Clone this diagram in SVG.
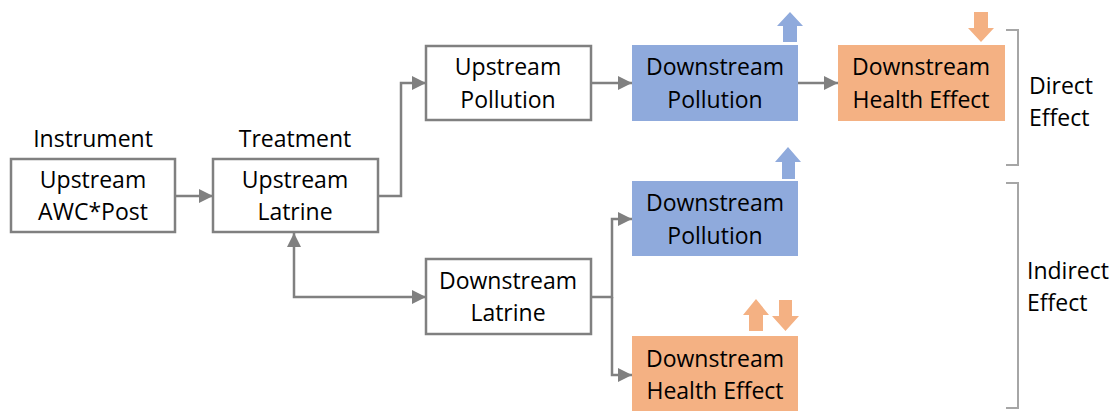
<svg xmlns="http://www.w3.org/2000/svg" width="1115" height="411" viewBox="0 0 1115 411">
<defs>
<marker id="ah" markerUnits="userSpaceOnUse" markerWidth="14" markerHeight="14" viewBox="0 0 12 12" refX="12" refY="6" orient="auto-start-reverse">
<path d="M0,0 L12,6 L0,12 Z" fill="#808080"/>
</marker>
</defs>
<style>
.box{fill:#ffffff;stroke:#808080;stroke-width:2.5}
.blue{fill:#8faadc}
.orange{fill:#f4b183}
.t{font-family:"Open Sans","Liberation Sans",sans-serif;font-size:23px;fill:#000;text-anchor:middle}
.tl{font-family:"Open Sans","Liberation Sans",sans-serif;font-size:23px;fill:#000}
.c{fill:none;stroke:#808080;stroke-width:2.5}
.br{fill:none;stroke:#a6a6a6;stroke-width:2}
</style>
<rect width="1115" height="411" fill="#ffffff"/>
<g id="connectors">
<path class="c" d="M175,196 H213" marker-end="url(#ah)"/>
<path class="c" d="M378,196 H401 V83 H426" marker-end="url(#ah)"/>
<path class="c" d="M591,83 H632" marker-end="url(#ah)"/>
<path class="c" d="M798,83 H838" marker-end="url(#ah)"/>
<path class="c" d="M294,233 V297 H426" marker-start="url(#ah)" marker-end="url(#ah)"/>
<path class="c" d="M591,297 H612 V219 H632" marker-end="url(#ah)"/>
<path class="c" d="M612,297 V375 H632" marker-end="url(#ah)"/>
</g>
<g id="label-instrument"><text class="t" x="93" y="147">Instrument</text></g>
<g id="label-treatment"><text class="t" x="295" y="147">Treatment</text></g>
<g id="upstream-awc-post">
<rect class="box" x="11" y="159" width="164" height="73"/>
<text class="t" x="93" y="188">Upstream</text>
<text class="t" x="93" y="220">AWC*Post</text>
</g>
<g id="upstream-latrine">
<rect class="box" x="213" y="159" width="165" height="73"/>
<text class="t" x="295" y="188">Upstream</text>
<text class="t" x="295" y="220">Latrine</text>
</g>
<g id="upstream-pollution">
<rect class="box" x="426" y="46" width="165" height="74"/>
<text class="t" x="508" y="75">Upstream</text>
<text class="t" x="508" y="108">Pollution</text>
</g>
<g id="downstream-pollution-direct">
<rect class="blue" x="632" y="45" width="166" height="76"/>
<text class="t" x="715" y="75">Downstream</text>
<text class="t" x="715" y="108">Pollution</text>
<path class="blue" d="M783,42 V26 H777 L790,12 L803,26 H797 V42 Z"/>
</g>
<g id="downstream-health-direct">
<rect class="orange" x="838" y="45" width="167" height="76"/>
<text class="t" x="921" y="75">Downstream</text>
<text class="t" x="921" y="108">Health Effect</text>
<path class="orange" d="M974,12 V28 H968 L981,42 L994,28 H988 V12 Z"/>
</g>
<g id="direct-effect">
<path class="br" d="M1006,30 H1018 V165 H1006"/>
<text class="tl" x="1029" y="94">Direct</text>
<text class="tl" x="1029" y="126">Effect</text>
</g>
<g id="downstream-latrine">
<rect class="box" x="426" y="259" width="165" height="75"/>
<text class="t" x="508" y="289">Downstream</text>
<text class="t" x="508" y="321">Latrine</text>
</g>
<g id="downstream-pollution-indirect">
<rect class="blue" x="632" y="181" width="166" height="75"/>
<text class="t" x="715" y="211">Downstream</text>
<text class="t" x="715" y="244">Pollution</text>
<path class="blue" d="M782,179 V162 H775 L788,147 L801,162 H795 V179 Z"/>
</g>
<g id="downstream-health-indirect">
<rect class="orange" x="632" y="336" width="166" height="75"/>
<text class="t" x="715" y="367">Downstream</text>
<text class="t" x="715" y="399">Health Effect</text>
<path class="orange" d="M749,331 V315 H743 L756,299 L769,315 H763 V331 Z"/>
<path class="orange" d="M779,300 V316 H772 L785.5,331 L799,316 H792 V300 Z"/>
</g>
<g id="indirect-effect">
<path class="br" d="M1006,183 H1018 V408 H1006"/>
<text class="tl" x="1027" y="279">Indirect</text>
<text class="tl" x="1027" y="311">Effect</text>
</g>
</svg>
